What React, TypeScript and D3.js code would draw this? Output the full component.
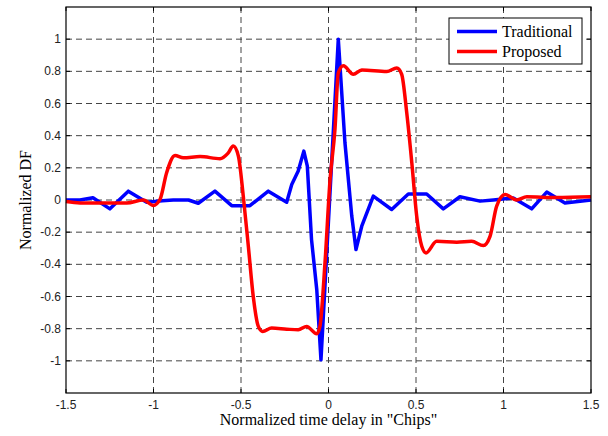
import React from "react";
import * as d3 from "d3";

const tradX = [-1.5, -1.42, -1.346, -1.249, -1.144, -1.039, -0.95, -0.887, -0.8, -0.744, -0.649, -0.553, -0.449, -0.344, -0.239, -0.21, -0.173, -0.141, -0.121, -0.097, -0.067, -0.043, 0.056, 0.094, 0.133, 0.157, 0.19, 0.256, 0.361, 0.456, 0.561, 0.656, 0.751, 0.866, 0.942, 1.056, 1.161, 1.247, 1.351, 1.5];
const tradY = [0, 0, 0.014, -0.055, 0.055, -0.014, -0.005, 0, 0, -0.02, 0.055, -0.035, -0.035, 0.055, -0.014, 0.097, 0.18, 0.304, 0.21, -0.246, -0.558, -0.994, 1.0, 0.356, -0.1, -0.308, -0.163, 0.024, -0.059, 0.037, 0.037, -0.055, 0.02, -0.007, 0, 0.013, -0.055, 0.049, -0.018, 0];

const propX = [-1.5, -1.42, -1.153, -1.058, -1.001, -0.963, -0.925, -0.877, -0.83, -0.734, -0.62, -0.575, -0.544, -0.515, -0.487, -0.458, -0.43, -0.401, -0.376, -0.325, -0.239, -0.173, -0.125, -0.067, -0.049, -0.02, 0.009, 0.037, 0.056, 0.085, 0.142, 0.19, 0.333, 0.39, 0.418, 0.447, 0.476, 0.504, 0.533, 0.557, 0.618, 0.733, 0.818, 0.885, 0.923, 0.961, 1.009, 1.075, 1.133, 1.3, 1.5];
const propY = [-0.01, -0.018, -0.018, 0, -0.034, 0.003, 0.17, 0.277, 0.263, 0.27, 0.257, 0.29, 0.335, 0.273, 0.024, -0.288, -0.6, -0.786, -0.817, -0.796, -0.803, -0.807, -0.786, -0.832, -0.786, -0.39, 0.128, 0.44, 0.79, 0.834, 0.782, 0.809, 0.799, 0.82, 0.782, 0.543, 0.232, -0.1, -0.288, -0.329, -0.257, -0.263, -0.257, -0.283, -0.226, -0.038, 0.034, 0, 0.02, 0.015, 0.02];

const xTicks = [-1.5, -1, -0.5, 0, 0.5, 1, 1.5];
const yTicks = [-1, -0.8, -0.6, -0.4, -0.2, 0, 0.2, 0.4, 0.6, 0.8, 1];
const seriesNames = ["Traditional", "Proposed"];
const seriesColors = ["#0000ff", "#ff0000"];

export default function App() {
  const W = 608, H = 436;
  const L = 66, R = 591, T = 7, B = 393;
  const x = d3.scaleLinear().domain([-1.5, 1.5]).range([L, R]);
  const y = d3.scaleLinear().domain([-1.2, 1.2]).range([B, T]);
  const lineLin = d3.line<[number, number]>().x(d => x(d[0])).y(d => y(d[1]));
  const lineSmooth = d3.line<[number, number]>().x(d => x(d[0])).y(d => y(d[1])).curve(d3.curveMonotoneX);
  const trad = tradX.map((v, i) => [v, tradY[i]] as [number, number]);
  const prop = propX.map((v, i) => [v, propY[i]] as [number, number]);
  const tickFont = "'Liberation Sans', Arial, sans-serif";
  const serif = "'Liberation Serif', 'Times New Roman', serif";
  const gridColor = "#444";
  const dash = "6,4";
  return (
    <svg width={W} height={H} style={{ position: "absolute", left: 0, top: 0, background: "#fff" }}>
      <rect x={0} y={0} width={W} height={H} fill="#fff" />
      {xTicks.slice(1, -1).map(t => (
        <line key={"gx" + t} x1={x(t)} x2={x(t)} y1={T} y2={B} stroke={gridColor} strokeWidth={1} strokeDasharray={dash} />
      ))}
      {yTicks.map(t => (
        <line key={"gy" + t} x1={L} x2={R} y1={y(t)} y2={y(t)} stroke={gridColor} strokeWidth={1} strokeDasharray={dash} />
      ))}
      {xTicks.map(t => (
        <g key={"tx" + t}>
          <line x1={x(t)} x2={x(t)} y1={B} y2={B - 4} stroke="#000" />
          <line x1={x(t)} x2={x(t)} y1={T} y2={T + 4} stroke="#000" />
          <text x={x(t)} y={B + 16} textAnchor="middle" fontFamily={tickFont} fontSize={12} fill="#222">{t}</text>
        </g>
      ))}
      {yTicks.map(t => (
        <g key={"ty" + t}>
          <line x1={L} x2={L + 4} y1={y(t)} y2={y(t)} stroke="#000" />
          <line x1={R} x2={R - 4} y1={y(t)} y2={y(t)} stroke="#000" />
          <text x={L - 5} y={y(t) + 4} textAnchor="end" fontFamily={tickFont} fontSize={12} fill="#222">{t}</text>
        </g>
      ))}
      <path d={lineLin(trad) || ""} fill="none" stroke={seriesColors[0]} strokeWidth={3.5} strokeLinejoin="round" />
      <path d={lineSmooth(prop) || ""} fill="none" stroke={seriesColors[1]} strokeWidth={3.5} strokeLinejoin="round" />
      <rect x={L} y={T} width={R - L} height={B - T} fill="none" stroke="#000" strokeWidth={1.2} />
      <g>
        <rect x={449} y={18} width={133} height={46} fill="#fff" stroke="#000" strokeWidth={1} />
        {seriesNames.map((n, i) => (
          <g key={n}>
            <line x1={457} x2={497} y1={31.5 + i * 20} y2={31.5 + i * 20} stroke={seriesColors[i]} strokeWidth={3.5} />
            <text x={502} y={37 + i * 20} fontFamily={serif} fontSize={16} fill="#000">{n}</text>
          </g>
        ))}
      </g>
      <text x={(L + R) / 2} y={425} textAnchor="middle" fontFamily={serif} fontSize={16} fill="#000">Normalized time delay in "Chips"</text>
      <text transform={`translate(31,${(T + B) / 2}) rotate(-90)`} textAnchor="middle" fontFamily={serif} fontSize={16} fill="#000">Normalized DF</text>
    </svg>
  );
}
